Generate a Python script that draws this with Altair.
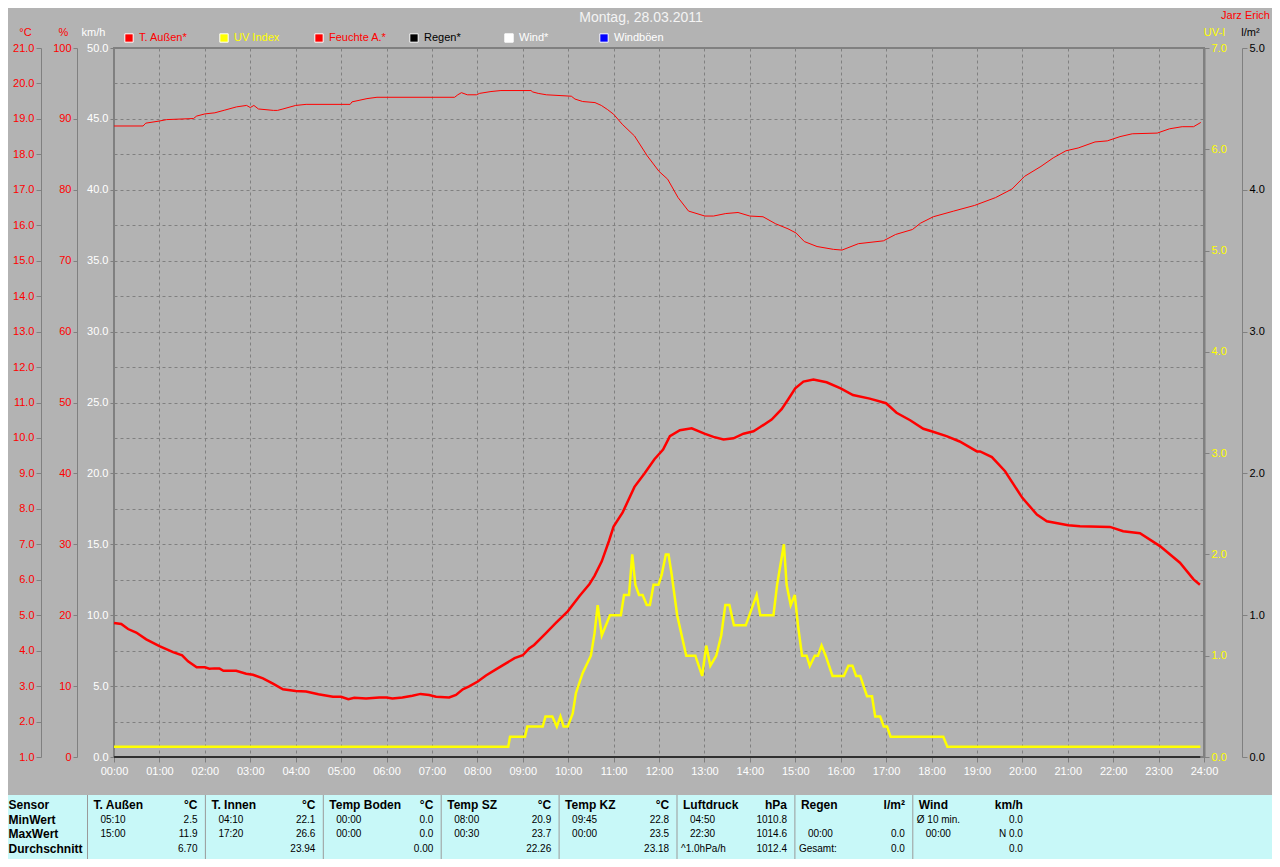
import altair as alt
import pandas as pd

# ---------------- data ----------------
temp_hours = [0.0, 0.16, 0.31, 0.49, 0.71, 1.0, 1.3, 1.5, 1.63, 1.82, 2.0, 2.1, 2.21, 2.32, 2.41, 2.69,
              2.91, 3.06, 3.28, 3.5, 3.72, 4.0, 4.23, 4.5, 4.82, 5.0, 5.16, 5.29, 5.55, 5.84, 6.0, 6.13,
              6.35, 6.57, 6.75, 6.94, 7.09, 7.38, 7.53, 7.68, 7.82, 8.01, 8.19, 8.41, 8.63, 8.82, 9.0,
              9.14, 9.25, 9.5, 9.73, 9.99, 10.25, 10.47, 10.58, 10.74, 10.9, 11.0, 11.2, 11.46, 11.68,
              11.9, 12.09, 12.24, 12.46, 12.72, 13.0, 13.2, 13.42, 13.64, 13.86, 14.08, 14.22, 14.48,
              14.7, 14.85, 15.0, 15.18, 15.4, 15.69, 16.0, 16.27, 16.64, 17.0, 17.23, 17.53, 17.82,
              18.0, 18.33, 18.62, 19.0, 19.07, 19.33, 19.62, 20.0, 20.32, 20.54, 21.01, 21.27, 21.93,
              22.22, 22.59, 23.03, 23.47, 23.77, 23.91]
temp_vals = [4.78, 4.75, 4.61, 4.51, 4.32, 4.13, 3.96, 3.87, 3.70, 3.53, 3.53, 3.49, 3.50, 3.50, 3.43, 3.43,
             3.35, 3.32, 3.22, 3.07, 2.91, 2.86, 2.85, 2.77, 2.70, 2.70, 2.63, 2.67, 2.65, 2.68, 2.68, 2.65,
             2.68, 2.73, 2.78, 2.75, 2.70, 2.68, 2.75, 2.91, 2.99, 3.13, 3.30, 3.47, 3.64, 3.79, 3.87,
             4.06, 4.16, 4.48, 4.78, 5.11, 5.54, 5.88, 6.11, 6.52, 7.10, 7.50, 7.90, 8.62, 9.00,
             9.40, 9.67, 10.05, 10.22, 10.27, 10.12, 10.03, 9.96, 9.99, 10.12, 10.19, 10.30, 10.52,
             10.81, 11.10, 11.40, 11.59, 11.65, 11.57, 11.40, 11.21, 11.11, 10.98, 10.71, 10.50, 10.26,
             10.19, 10.05, 9.90, 9.62, 9.62, 9.46, 9.06, 8.31, 7.84, 7.65, 7.54, 7.51, 7.49,
             7.37, 7.31, 6.95, 6.48, 6.01, 5.86]

hum_hours = [0.0, 0.64, 0.7, 1.0, 1.16, 1.75, 1.82, 2.0, 2.22, 2.44, 2.7, 2.92, 3.0, 3.08, 3.18, 3.51,
             3.6, 3.72, 4.0, 4.23, 5.2, 5.24, 5.57, 5.79, 7.5, 7.57, 7.65, 7.78, 7.98, 8.05, 8.3, 8.52,
             9.18, 9.22, 9.34, 9.52, 10.07, 10.15, 10.32, 10.59, 10.73, 10.87, 11.0, 11.19, 11.46,
             11.74, 12.0, 12.19, 12.42, 12.65, 13.01, 13.2, 13.47, 13.74, 14.0, 14.29, 14.57, 14.84,
             15.02, 15.2, 15.48, 15.84, 16.03, 16.39, 16.94, 17.21, 17.58, 17.76, 18.04, 18.49, 18.95,
             19.41, 19.77, 20.05, 20.41, 20.68, 20.96, 21.23, 21.6, 21.87, 22.15, 22.42, 22.97, 23.24,
             23.52, 23.77, 23.93]
hum_vals = [89.0, 89.0, 89.4, 89.7, 89.9, 90.05, 90.4, 90.7, 90.86, 91.24, 91.7, 91.9, 91.6, 91.9, 91.4, 91.2,
            91.2, 91.4, 91.9, 92.05, 92.05, 92.4, 92.86, 93.05, 93.05, 93.4, 93.7, 93.4, 93.4, 93.6, 93.86, 94.0,
            94.0, 93.8, 93.6, 93.4, 93.2, 92.8, 92.45, 92.3, 91.9, 91.3, 90.66, 89.25, 87.6,
            84.8, 82.6, 81.5, 78.9, 77.0, 76.3, 76.3, 76.65, 76.8, 76.3, 76.2, 75.2, 74.5,
            73.9, 72.7, 72.0, 71.6, 71.5, 72.4, 72.8, 73.7, 74.4, 75.3, 76.2, 77.0, 77.8,
            78.9, 80.1, 81.9, 83.3, 84.5, 85.5, 85.9, 86.75, 86.9, 87.5, 87.9, 88.0, 88.6,
            88.9, 88.9, 89.5]

uv_hours = [0.0, 8.68, 8.72, 9.05, 9.1, 9.44, 9.5, 9.65, 9.75, 9.83, 9.9, 9.99, 10.1, 10.17, 10.32, 10.5,
            10.58, 10.65, 10.74, 10.92, 11.16, 11.23, 11.34, 11.41, 11.48, 11.56, 11.64, 11.73, 11.8,
            11.88, 11.99, 12.06, 12.15, 12.21, 12.28, 12.4, 12.5, 12.6, 12.8, 12.95, 13.04, 13.13,
            13.26, 13.37, 13.46, 13.55, 13.65, 13.91, 14.15, 14.23, 14.52, 14.6, 14.75, 14.81, 14.9,
            14.99, 15.06, 15.15, 15.25, 15.32, 15.43, 15.5, 15.58, 15.67, 15.82, 16.07, 16.17, 16.26,
            16.34, 16.43, 16.58, 16.69, 16.76, 16.87, 16.95, 17.02, 17.1, 18.26, 18.35, 23.92]
uv_vals = [0.1, 0.1, 0.2, 0.2, 0.3, 0.3, 0.4, 0.4, 0.3, 0.4, 0.3, 0.3, 0.43, 0.63, 0.83, 1.0,
           1.22, 1.5, 1.2, 1.4, 1.4, 1.6, 1.6, 2.0, 1.7, 1.6, 1.6, 1.5, 1.5,
           1.7, 1.7, 1.8, 2.0, 2.0, 1.8, 1.4, 1.2, 1.0, 1.0, 0.8, 1.1, 0.9,
           1.0, 1.2, 1.5, 1.5, 1.3, 1.3, 1.6, 1.4, 1.4, 1.7, 2.1, 1.7, 1.5,
           1.6, 1.3, 1.0, 1.0, 0.9, 1.0, 1.0, 1.1, 1.0, 0.8, 0.8, 0.9, 0.9,
           0.8, 0.8, 0.6, 0.6, 0.4, 0.4, 0.3, 0.3, 0.2, 0.2, 0.1, 0.1]

rain_hours = [0.0, 23.92]
rain_vals = [0.0, 0.0]
wind_hours = [0.0, 23.92]
wind_vals = [0.0, 0.0]

legend_names = ["T. Außen*", "UV Index", "Feuchte A.*", "Regen*", "Wind*", "Windböen"]
legend_fill = ["#FF0000", "#FFFF00", "#FF0000", "#000000", "#FFFFFF", "#0000FF"]
legend_text = ["#FF0000", "#FFFF00", "#FF0000", "#000000", "#FFFFFF", "#FFFFFF"]

hour_ticks = list(range(0, 25))
temp_ticks = [float(v) for v in range(1, 22)]
hum_ticks = list(range(0, 101, 10))
wind_ticks = [float(v) for v in range(0, 51, 5)]
uv_ticks = [float(v) for v in range(0, 8)]
rain_ticks = [float(v) for v in range(0, 6)]

chart_title = "Montag, 28.03.2011"
author = "Jarz Erich"

table_rows = ["Sensor", "MinWert", "MaxWert", "Durchschnitt"]
table_sensors = ["T. Außen", "T. Innen", "Temp Boden", "Temp SZ", "Temp KZ", "Luftdruck", "Regen", "Wind"]
table_units = ["°C", "°C", "°C", "°C", "°C", "hPa", "l/m²", "km/h"]
min_time = ["05:10", "04:10", "00:00", "08:00", "09:45", "04:50", "", ""]
min_note = ["", "", "", "", "", "", "", "Ø 10 min."]
min_value = ["2.5", "22.1", "0.0", "20.9", "22.8", "1010.8", "", "0.0"]
max_time = ["15:00", "17:20", "00:00", "00:30", "00:00", "22:30", "00:00", "00:00"]
max_value = ["11.9", "26.6", "0.0", "23.7", "23.5", "1014.6", "0.0", "N 0.0"]
avg_note = ["", "", "", "", "", "^1.0hPa/h", "Gesamt:", ""]
avg_value = ["6.70", "23.94", "0.00", "22.26", "23.18", "1012.4", "0.0", "0.0"]

# ---------------- styling ----------------
BG = "#B3B3B3"
GRID = "#808080"
RED = "#FF0000"
YEL = "#FFFF00"
FONT = "Liberation Sans"
W, H = 1090, 709

xs = alt.Scale(domain=[0, 24], nice=False, zero=False)


def axis_common(**kw):
    base = dict(labelFont=FONT, labelFontSize=11, titleFont=FONT, titleFontSize=11,
                titleFontWeight="normal", titleAngle=0, titleAlign="center", titleBaseline="middle",
                labelOverlap=False, tickColor=GRID, domainColor=GRID, labelPadding=2)
    base.update(kw)
    return alt.Axis(**base)


temp_df = pd.DataFrame({"h": temp_hours, "v": temp_vals})
hum_df = pd.DataFrame({"h": hum_hours, "v": hum_vals})
uv_df = pd.DataFrame({"h": uv_hours, "v": uv_vals})
rain_df = pd.DataFrame({"h": rain_hours, "v": rain_vals})
wind_df = pd.DataFrame({"h": wind_hours, "v": wind_vals})

x_axis = alt.Axis(values=hour_ticks, labelExpr="(datum.value < 10 ? '0' : '') + datum.value + ':00'",
                  labelColor="white", labelFont=FONT, labelFontSize=11, labelFlush=False,
                  labelOverlap=False, tickColor=GRID, tickSize=5, labelPadding=3, domain=False,
                  grid=True, gridColor=GRID, gridDash=[3, 3], title=None)

temp_layer = alt.Chart(temp_df).mark_line(color=RED, strokeWidth=2.5).encode(
    x=alt.X("h:Q", scale=xs, axis=x_axis),
    y=alt.Y("v:Q", scale=alt.Scale(domain=[1, 21], nice=False, zero=False),
            axis=axis_common(orient="left", offset=73, values=temp_ticks, format=".1f",
                             labelColor=RED, tickSize=5, grid=True, gridColor=GRID, gridDash=[3, 3],
                             title="°C", titleColor=RED, titleX=-16, titleY=-16)),
)

hum_layer = alt.Chart(hum_df).mark_line(color=RED, strokeWidth=1).encode(
    x=alt.X("h:Q", scale=xs, axis=None),
    y=alt.Y("v:Q", scale=alt.Scale(domain=[0, 100], nice=False, zero=False),
            axis=axis_common(orient="left", offset=37, values=hum_ticks, format="d",
                             labelColor=RED, tickSize=4, grid=False,
                             title="%", titleColor=RED, titleX=-14, titleY=-16)),
)

wind_layer = alt.Chart(wind_df).mark_line(color="white", strokeWidth=1).encode(
    x=alt.X("h:Q", scale=xs, axis=None),
    y=alt.Y("v:Q", scale=alt.Scale(domain=[0, 50], nice=False, zero=False),
            axis=axis_common(orient="left", offset=0, values=wind_ticks, format=".1f",
                             labelColor="white", tickSize=4, grid=False, domain=False,
                             title="km/h", titleColor="white", titleX=-21, titleY=-16)),
)

uv_layer = alt.Chart(uv_df).mark_line(color=YEL, strokeWidth=2.5).encode(
    x=alt.X("h:Q", scale=xs, axis=None),
    y=alt.Y("v:Q", scale=alt.Scale(domain=[0, 7], nice=False, zero=False),
            axis=axis_common(orient="right", offset=0, values=uv_ticks, format=".1f",
                             labelColor=YEL, tickSize=5, grid=False, domainWidth=2,
                             title="UV-I", titleColor=YEL, titleX=10, titleY=-16)),
)

rain_layer = alt.Chart(rain_df).mark_line(color="black", strokeWidth=1.5).encode(
    x=alt.X("h:Q", scale=xs, axis=None),
    y=alt.Y("v:Q", scale=alt.Scale(domain=[0, 5], nice=False, zero=False),
            axis=axis_common(orient="right", offset=38, values=rain_ticks, format=".1f",
                             labelColor="black", tickSize=5, grid=False,
                             title="l/m²", titleColor="black", titleX=8, titleY=-16)),
)

# legend
leg_df = pd.DataFrame({"i": list(range(len(legend_names))), "name": legend_names,
                       "fill": legend_fill, "tc": legend_text})
leg_x = alt.X("i:Q", scale=alt.Scale(domain=[0, 5], range=[15, 490], nice=False, zero=False), axis=None)
leg_sq = alt.Chart(leg_df).mark_square(size=70, stroke="white", strokeWidth=1, opacity=1).encode(
    x=leg_x, y=alt.value(-10), fill=alt.Fill("fill:N", scale=None))
leg_tx = alt.Chart(leg_df).mark_text(align="left", baseline="middle", dx=10, font=FONT, fontSize=11).encode(
    x=leg_x, y=alt.value(-10), text="name:N", color=alt.Color("tc:N", scale=None))

# title texts
title_df = pd.DataFrame({"t": [chart_title]})
title_mk = alt.Chart(title_df).mark_text(align="center", baseline="middle", font=FONT, fontSize=14,
                                         color="#F4F4F4").encode(
    x=alt.value(527), y=alt.value(-30), text="t:N")
auth_df = pd.DataFrame({"t": [author]})
auth_mk = alt.Chart(auth_df).mark_text(align="right", baseline="middle", font=FONT, fontSize=11,
                                       color=RED).encode(
    x=alt.value(1156), y=alt.value(-32), text="t:N")

# ---------------- table ----------------
tx = alt.X("col:Q", scale=alt.Scale(domain=[0, 8], range=[-26.5, 916.7], nice=False, zero=False), axis=None)
ty = alt.Y("row:Q", scale=alt.Scale(domain=[0, 3], range=[757, 801], nice=False, zero=False), axis=None)

n = len(table_sensors)
head_df = pd.DataFrame({"col": list(range(n)), "row": [0] * n, "t": table_sensors})
unit_df = pd.DataFrame({"col": list(range(n)), "row": [0] * n, "t": table_units})
time_df = pd.DataFrame({"col": list(range(n)) * 2, "row": [1] * n + [2] * n, "t": min_time + max_time})
note_df = pd.DataFrame({"col": list(range(n)) * 2, "row": [1] * n + [3] * n, "t": min_note + avg_note})
val_df = pd.DataFrame({"col": list(range(n)) * 3, "row": [1] * n + [2] * n + [3] * n,
                       "t": min_value + max_value + avg_value})
rowlab_df = pd.DataFrame({"col": [0] * 4, "row": [0, 1, 2, 3], "t": table_rows})
sep_df = pd.DataFrame({"col": list(range(n))})

table_bg = alt.Chart(pd.DataFrame({"a": [0]})).mark_rect(color="#C8F8F8").encode(
    x=alt.value(-106), x2=alt.value(1160), y=alt.value(747), y2=alt.value(820))
seps = alt.Chart(sep_df).mark_rule(color="#9A9A9A", strokeWidth=1).encode(
    x=tx, y=alt.value(747), y2=alt.value(820))
heads = alt.Chart(head_df).mark_text(align="left", baseline="middle", dx=6, font=FONT, fontSize=12,
                                     fontWeight="bold", color="black").encode(x=tx, y=ty, text="t:N")
units = alt.Chart(unit_df).mark_text(align="right", baseline="middle", dx=110, font=FONT, fontSize=12,
                                     fontWeight="bold", color="black").encode(x=tx, y=ty, text="t:N")
rowlabs = alt.Chart(rowlab_df).mark_text(align="left", baseline="middle", dx=-79, font=FONT, fontSize=12,
                                         fontWeight="bold", color="black").encode(x=tx, y=ty, text="t:N")
times = alt.Chart(time_df).mark_text(align="left", baseline="middle", dx=13, font=FONT, fontSize=10,
                                     color="black").encode(x=tx, y=ty, text="t:N")
notes = alt.Chart(note_df).mark_text(align="left", baseline="middle", dx=4, font=FONT, fontSize=10,
                                     color="black").encode(x=tx, y=ty, text="t:N")
vals = alt.Chart(val_df).mark_text(align="right", baseline="middle", dx=110, font=FONT, fontSize=10,
                                   color="black").encode(x=tx, y=ty, text="t:N")

chart = alt.layer(
    temp_layer, hum_layer, wind_layer, uv_layer, rain_layer,
    leg_sq, leg_tx, title_mk, auth_mk,
    table_bg, seps, heads, units, rowlabs, times, notes, vals,
).resolve_scale(x="independent", y="independent").properties(
    width=W, height=H,
    autosize=alt.AutoSizeParams(type="none"),
    padding={"left": 106, "top": 40, "right": 68, "bottom": 102},
    background=BG,
).configure_view(stroke=GRID, strokeWidth=2)

chart.save("out.html", embed_options={"renderer": "svg", "actions": False})
